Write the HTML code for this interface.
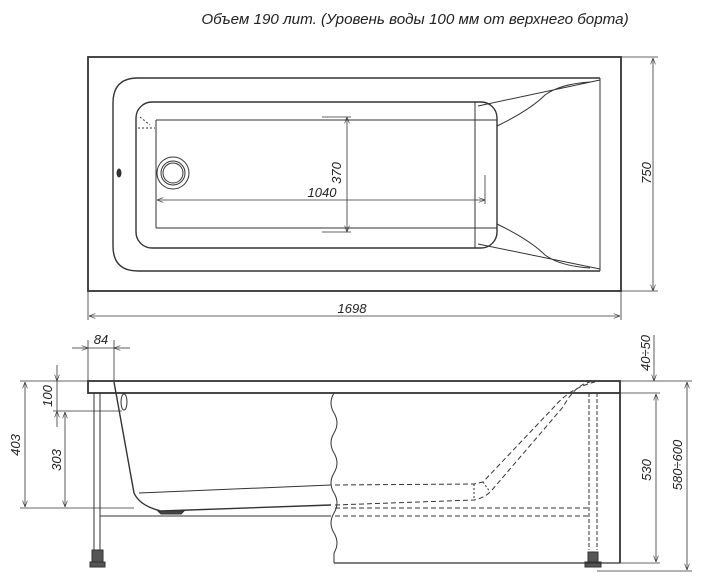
<!DOCTYPE html>
<html><head><meta charset="utf-8"><style>
html,body{margin:0;padding:0;background:#fff}
svg{display:block}
text{font-family:"Liberation Sans",sans-serif;font-style:italic;fill:#222}
</style></head><body>
<svg width="701" height="583" viewBox="0 0 701 583" xmlns="http://www.w3.org/2000/svg">
<defs>
<marker id="a" markerWidth="8" markerHeight="6" refX="8" refY="3" orient="auto-start-reverse"><path d="M0,0 L8,3 L0,6" fill="none" stroke="#333" stroke-width="0.8"/></marker>
</defs>
<text x="415" y="24" font-size="15.2" text-anchor="middle">Объем 190 лит. (Уровень воды 100 мм от верхнего борта)</text>

<g fill="none" stroke="#333" stroke-width="1">
<!-- top view -->
<rect x="88" y="57" width="533" height="234" stroke-width="1.8"/>
<path d="M600,78 L138,78 Q113,78 113,103 L113,246 Q113,271 138,271 L600,271" stroke-width="1.4"/>
<line x1="600" y1="78" x2="600" y2="271"/>
<rect x="136" y="102" width="361" height="146" rx="16" stroke-width="1.4"/>
<path d="M156,120 L497,120 M156,228 L497,228 M156,120 L156,228 M475,102 L475,248"/>
<path d="M478,106 L600,80 M497,126 Q530,110 545,95 Q560,84 590,82"/>
<path d="M478,244 L600,269 M497,224 Q530,240 545,255 Q560,266 590,268"/>
<path d="M140,117 L150,125 M138,128 L155,128" stroke-dasharray="2,2"/>
<circle cx="173" cy="173" r="16"/><circle cx="173" cy="173" r="12"/><circle cx="173" cy="173" r="10"/>
<ellipse cx="119" cy="173" rx="2" ry="4" fill="#333"/>
<line x1="347" y1="117" x2="347" y2="232" marker-start="url(#a)" marker-end="url(#a)" stroke-width="0.8"/>
<path d="M322,117 L351,117 M322,232 L351,232" stroke-width="0.8"/>
<line x1="157" y1="200" x2="485" y2="200" marker-start="url(#a)" marker-end="url(#a)" stroke-width="0.8"/>
<line x1="485" y1="175" x2="485" y2="204" stroke-width="0.8"/>
<line x1="653" y1="58" x2="653" y2="291" marker-start="url(#a)" marker-end="url(#a)" stroke-width="0.8"/>
<path d="M621,57 L658,57 M621,291 L658,291 M88,291 L88,320 M621,291 L621,320" stroke-width="0.8"/>
<line x1="89" y1="316" x2="620" y2="316" marker-start="url(#a)" marker-end="url(#a)" stroke-width="0.8"/>

<!-- side view -->
<rect x="88" y="381" width="532" height="12" stroke-width="1.8"/>
<path d="M94,393 L94,550 M100,393 L100,550"/>
<path d="M92,550 h11 v12 h-11 z M90,562 h15 v5 h-15 z" fill="#555"/>
<path d="M589,393 L589,550 M597,393 L597,550" stroke-dasharray="4,2"/>
<path d="M588,552 h10 v10 h-10 z M585,562 h16 v5 h-16 z" fill="#555"/>
<line x1="620" y1="393" x2="620" y2="563" stroke-width="1.8"/>
<line x1="334" y1="563" x2="620" y2="563" stroke-width="1.3"/>
<path d="M334,393 q-6,10 0,20 q6,10 0,20 q-6,10 0,20 q6,10 0,20 q-6,10 0,20 q6,10 0,20 q-6,10 0,20 q6,10 0,20 l0,10" />
<line x1="100" y1="516" x2="331" y2="516"/>
<path d="M335,516 L589,516 M335,508 L589,508" stroke-dasharray="5,3"/>
<path d="M114,382 L134,493 Q140,506 161,511 L331,505" stroke-width="1.4"/>
<path d="M139,493 L331,485"/>
<path d="M335,505 L474,500 Q485,498 492,490 L563,407 Q575,385 590,382 M335,485 L474,484 L483,482 L554,407 Q570,388 595,382" stroke-dasharray="5,3"/>
<path d="M474,484 L474,500 M483,482 L490,492" stroke-dasharray="2,2"/>
<path d="M158,511 h26 l-3,3 h-20 z" fill="#444"/>
<ellipse cx="124" cy="402" rx="3" ry="8"/>
<path d="M88,340 L88,381 M114,340 L114,381" stroke-width="0.8"/>
<line x1="72" y1="348" x2="88" y2="348" marker-end="url(#a)" stroke-width="0.8"/>
<line x1="130" y1="348" x2="114" y2="348" marker-end="url(#a)" stroke-width="0.8"/>
<line x1="88" y1="348" x2="114" y2="348" stroke-width="0.8"/>
<path d="M20,381 L88,381 M20,508 L134,508 M53,411 L122,411" stroke-width="0.8"/>
<line x1="25" y1="382" x2="25" y2="507" marker-start="url(#a)" marker-end="url(#a)" stroke-width="0.8"/>
<line x1="57" y1="365" x2="57" y2="381" marker-end="url(#a)" stroke-width="0.8"/>
<line x1="57" y1="427" x2="57" y2="411" marker-end="url(#a)" stroke-width="0.8"/>
<line x1="57" y1="381" x2="57" y2="411" stroke-width="0.8"/>
<line x1="65" y1="412" x2="65" y2="507" marker-start="url(#a)" marker-end="url(#a)" stroke-width="0.8"/>
<path d="M620,381 L692,381 M620,393 L660,393 M620,563 L660,563 M597,571 L692,571" stroke-width="0.8"/>
<line x1="654" y1="335" x2="654" y2="381" marker-end="url(#a)" stroke-width="0.8"/>
<line x1="656" y1="394" x2="656" y2="562" marker-start="url(#a)" marker-end="url(#a)" stroke-width="0.8"/>
<line x1="687" y1="382" x2="687" y2="570" marker-start="url(#a)" marker-end="url(#a)" stroke-width="0.8"/>
</g>

<g font-size="13">
<text x="341" y="173" transform="rotate(-90 341 173)" text-anchor="middle">370</text>
<text x="322" y="197" text-anchor="middle">1040</text>
<text x="651" y="173" transform="rotate(-90 651 173)" text-anchor="middle">750</text>
<text x="352" y="313" text-anchor="middle">1698</text>
<text x="101" y="344" text-anchor="middle">84</text>
<text x="20" y="445" transform="rotate(-90 20 445)" text-anchor="middle">403</text>
<text x="52" y="396" transform="rotate(-90 52 396)" text-anchor="middle">100</text>
<text x="61" y="460" transform="rotate(-90 61 460)" text-anchor="middle">303</text>
<text x="650" y="353" transform="rotate(-90 650 353)" text-anchor="middle">40÷50</text>
<text x="651" y="470" transform="rotate(-90 651 470)" text-anchor="middle">530</text>
<text x="682" y="465" transform="rotate(-90 682 465)" text-anchor="middle">580÷600</text>
</g>
</svg>
</body></html>
